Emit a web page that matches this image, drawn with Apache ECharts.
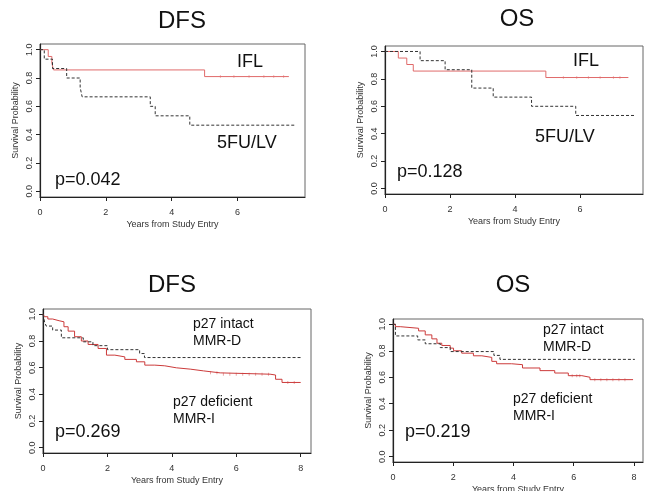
<!DOCTYPE html>
<html>
<head>
<meta charset="utf-8">
<script src="https://cdn.jsdelivr.net/npm/echarts@6/dist/echarts.min.js"></script>
<style>
html,body{margin:0;padding:0;background:#fff;}
#c{width:658px;height:501px;}
</style>
</head>
<body>
<div id="c"></div>
<script>
// ---- data ----
const panelTitles = ['DFS', 'OS', 'DFS', 'OS'];
const pValues = ['p=0.042', 'p=0.128', 'p=0.269', 'p=0.219'];
const yTicks = [0, 0.2, 0.4, 0.6, 0.8, 1.0];
const xTicksTop = [0, 2, 4, 6];
const xTicksBottom = [0, 2, 4, 6, 8];
const xAxisName = 'Years from Study Entry';
const yAxisName = 'Survival Probability';

// Top-left DFS: IFL vs 5FU/LV
const tlIflTime = [0, 0.25, 0.36, 0.41, 5.0, 7.56];
const tlIflSurv = [1, 0.952, 0.905, 0.857, 0.810, 0.810];
const tlIflCensor = [5.48, 5.89, 6.35, 6.8, 7.1, 7.4];
const tl5fuTime = [0, 0.13, 0.38, 0.81, 1.22, 1.28, 3.35, 3.5, 4.55, 7.77];
const tl5fuSurv = [1, 0.933, 0.867, 0.8, 0.733, 0.667, 0.6, 0.533, 0.467, 0.467];

// Top-right OS: IFL vs 5FU/LV
const trIflTime = [0, 0.41, 0.67, 0.87, 4.95, 7.49];
const trIflSurv = [1, 0.952, 0.905, 0.857, 0.810, 0.810];
const trIflCensor = [5.49, 5.9, 6.26, 6.62, 7.03, 7.23];
const tr5fuTime = [0, 1.08, 1.85, 2.67, 3.33, 4.51, 5.87, 7.69];
const tr5fuSurv = [1, 0.933, 0.867, 0.733, 0.667, 0.6, 0.533, 0.533];

// Bottom-left DFS: p27 deficient (MMR-I) vs p27 intact (MMR-D)
const blDefTime = [0, 0.05, 0.15, 0.3, 0.5, 0.65, 0.78, 0.98, 1.19, 1.4, 1.71, 1.97, 2.23, 2.54, 2.9, 3.16, 3.47, 3.78, 4.14, 4.57, 4.98, 5.5, 7.05, 7.22, 7.42, 8.0];
const blDefSurv = [1, 0.982, 0.965, 0.952, 0.944, 0.907, 0.874, 0.832, 0.80, 0.774, 0.744, 0.694, 0.681, 0.662, 0.644, 0.619, 0.614, 0.599, 0.589, 0.576, 0.561, 0.551, 0.545, 0.513, 0.489, 0.489];
const blDefCensor = [5.2, 5.4, 5.6, 5.8, 6.0, 6.2, 6.4, 6.6, 6.8, 7.0, 7.6, 7.8];
const blIntTime = [0, 0.05, 0.1, 0.3, 0.57, 1.25, 1.55, 2.0, 3.0, 3.15, 8.02];
const blIntSurv = [1, 0.941, 0.912, 0.882, 0.824, 0.794, 0.765, 0.735, 0.706, 0.676, 0.676];

// Bottom-right OS: p27 deficient (MMR-I) vs p27 intact (MMR-D)
const brDefTime = [0, 0.08, 0.24, 0.85, 1.07, 1.29, 1.46, 1.62, 1.9, 2.01, 2.28, 2.67, 2.95, 3.28, 3.44, 3.94, 4.3, 4.88, 5.37, 5.82, 6.27, 6.54, 7.97];
const brDefSurv = [1, 0.982, 0.97, 0.95, 0.92, 0.89, 0.857, 0.84, 0.82, 0.80, 0.782, 0.762, 0.75, 0.72, 0.702, 0.695, 0.67, 0.65, 0.632, 0.612, 0.60, 0.582, 0.582];
const brDefCensor = [5.95, 6.1, 6.2, 6.7, 6.9, 7.1, 7.3, 7.5, 7.7];
const brIntTime = [0, 0.08, 0.82, 1.07, 1.57, 1.9, 3.35, 3.55, 8.03];
const brIntSurv = [1, 0.912, 0.882, 0.853, 0.824, 0.794, 0.765, 0.735, 0.735];

// ---- chart ----
const FONT = '"Liberation Sans", Arial, sans-serif';
const grids = [
  {left: 40, top: 44, width: 265, height: 153},
  {left: 385, top: 46, width: 258, height: 148},
  {left: 43, top: 309, width: 268, height: 144},
  {left: 393, top: 319, width: 250, height: 143}
];
const xMax = [8.05, 7.94, 8.32, 8.3];
const xTickSets = [xTicksTop, xTicksTop, xTicksBottom, xTicksBottom];

function pairs(t, s) { return t.map((v, i) => [v, s[i]]); }
function survAt(t, times, surv) {
  let v = surv[0];
  for (let k = 0; k < times.length; k++) { if (times[k] <= t) v = surv[k]; }
  return v;
}

const xAxes = grids.map((g, i) => ({
  type: 'value', gridIndex: i, min: 0, max: xMax[i],
  axisLine: {show: true, onZero: false, lineStyle: {color: '#222', width: 1.2}},
  axisTick: {show: true, length: 4, lineStyle: {color: '#222'}, customValues: xTickSets[i]},
  axisLabel: {customValues: xTickSets[i], color: '#333', fontSize: 9, fontFamily: FONT, margin: 11},
  splitLine: {show: false},
  name: xAxisName, nameLocation: 'middle', nameGap: 23,
  nameTextStyle: {color: '#333', fontSize: 9, fontFamily: FONT}
}));
const yAxes = grids.map((g, i) => ({
  type: 'value', gridIndex: i, min: -0.04, max: 1.04,
  axisLine: {show: true, onZero: false, lineStyle: {color: '#222', width: 1.2}},
  axisTick: {show: true, length: 4, lineStyle: {color: '#222'}, customValues: yTicks},
  axisLabel: {customValues: yTicks, rotate: 90, color: '#333', fontSize: 9, fontFamily: FONT, margin: 6,
    formatter: v => v.toFixed(1)},
  splitLine: {show: false},
  name: yAxisName, nameLocation: 'middle', nameGap: 20, nameRotate: 90,
  nameTextStyle: {color: '#333', fontSize: 9, fontFamily: FONT}
}));

const redTop = '#e06a6a';
const redBottom = '#cc3b3b';
function km(name, t, s, i, color, dashed) {
  return {
    type: 'line', name: name, xAxisIndex: i, yAxisIndex: i, step: 'end',
    data: pairs(t, s), showSymbol: false, symbol: 'none', animation: false,
    lineStyle: {color: color, width: 1, type: dashed ? [3, 2] : 'solid'}
  };
}
function censor(name, c, t, s, i, color) {
  return {
    type: 'scatter', name: name, xAxisIndex: i, yAxisIndex: i, animation: false,
    data: c.map(v => [v, survAt(v, t, s)]),
    symbol: 'rect', symbolSize: [1, 3], itemStyle: {color: color, opacity: 0.45}, silent: true
  };
}
const series = [
  km('IFL', tlIflTime, tlIflSurv, 0, redTop, false),
  censor('IFL', tlIflCensor, tlIflTime, tlIflSurv, 0, redTop),
  km('5FU/LV', tl5fuTime, tl5fuSurv, 0, '#333', true),
  km('IFL', trIflTime, trIflSurv, 1, redTop, false),
  censor('IFL', trIflCensor, trIflTime, trIflSurv, 1, redTop),
  km('5FU/LV', tr5fuTime, tr5fuSurv, 1, '#333', true),
  km('p27 deficient MMR-I', blDefTime, blDefSurv, 2, redBottom, false),
  censor('p27 deficient MMR-I', blDefCensor, blDefTime, blDefSurv, 2, redBottom),
  km('p27 intact MMR-D', blIntTime, blIntSurv, 2, '#333', true),
  km('p27 deficient MMR-I', brDefTime, brDefSurv, 3, redBottom, false),
  censor('p27 deficient MMR-I', brDefCensor, brDefTime, brDefSurv, 3, redBottom),
  km('p27 intact MMR-D', brIntTime, brIntSurv, 3, '#333', true)
];

function txt(text, x, y, size, align) {
  return {type: 'text', x: x, y: y, z: 10,
    style: {text: text, fontSize: size, fontFamily: FONT, fill: '#111', align: align || 'left', verticalAlign: 'middle'}};
}
const titlePos = [[182, 21], [517, 19], [172, 285], [513, 285]];
const pPos = [[55, 180], [397, 172], [55, 432], [405, 432]];
const graphics = [];
panelTitles.forEach((t, i) => graphics.push(txt(t, titlePos[i][0], titlePos[i][1], 24, 'center')));
pValues.forEach((t, i) => graphics.push(txt(t, pPos[i][0], pPos[i][1], 18)));
graphics.push(txt('IFL', 237, 62, 18));
graphics.push(txt('5FU/LV', 217, 143, 18));
graphics.push(txt('IFL', 573, 61, 18));
graphics.push(txt('5FU/LV', 535, 137, 18));
graphics.push(txt('p27 intact', 193, 324, 14));
graphics.push(txt('MMR-D', 193, 341, 14));
graphics.push(txt('p27 deficient', 173, 402, 14));
graphics.push(txt('MMR-I', 173, 419, 14));
graphics.push(txt('p27 intact', 543, 330, 14));
graphics.push(txt('MMR-D', 543, 347, 14));
graphics.push(txt('p27 deficient', 513, 399, 14));
graphics.push(txt('MMR-I', 513, 416, 14));
graphics.push({type: 'rect', z: 100, shape: {x: 0, y: 491, width: 658, height: 10}, style: {fill: '#fff'}});

const chart = echarts.init(document.getElementById('c'), null, {renderer: 'canvas'});
chart.setOption({
  backgroundColor: '#fff',
  animation: false,
  grid: grids.map(g => Object.assign({show: true, borderColor: '#666', borderWidth: 1, backgroundColor: 'transparent'}, g)),
  xAxis: xAxes,
  yAxis: yAxes,
  series: series,
  graphic: graphics
});
</script>
</body>
</html>
